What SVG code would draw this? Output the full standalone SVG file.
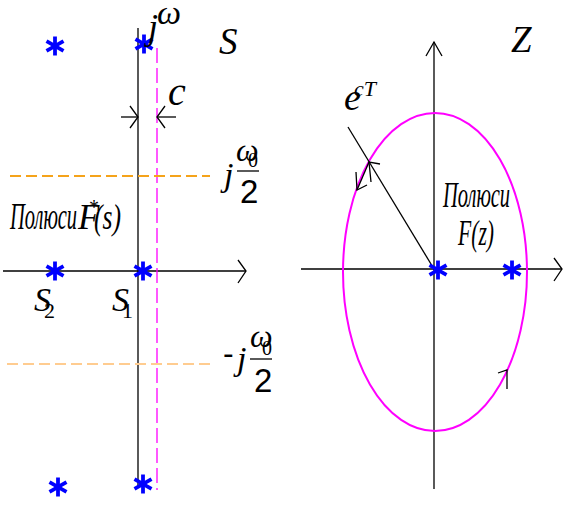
<svg xmlns="http://www.w3.org/2000/svg" width="576" height="512" viewBox="0 0 576 512">
<style>
.ax{stroke:#000;stroke-width:1.3;fill:none}
.ah{stroke:#000;stroke-width:1.3;fill:none}
.t{font-family:"Liberation Serif",serif;font-style:italic;fill:#000}
.n{font-family:"Liberation Serif",serif;fill:#000}
.s2{font-family:"Liberation Sans",sans-serif;fill:#000}
.star{stroke:#0000ff;stroke-width:3.8;stroke-linecap:butt}
</style>
<defs>
<g id="st"><line class="star" x1="0" y1="-9.5" x2="0" y2="9.5"/><line class="star" x1="-8.5" y1="-4.8" x2="8.5" y2="4.8"/><line class="star" x1="-8.5" y1="4.8" x2="8.5" y2="-4.8"/></g>
</defs>
<rect width="576" height="512" fill="#fff"/>
<g id="connectors">
<line class="ax" x1="138" y1="28" x2="138" y2="487"/>
<line class="ax" x1="3" y1="271" x2="246" y2="271"/>
<polyline class="ah" points="238,260 246,271 238,283"/>
<line x1="157" y1="48" x2="157" y2="490" stroke="#ff00ff" stroke-width="1.3" stroke-dasharray="15,5"/>
<line x1="10" y1="176" x2="210" y2="176" stroke="#f5a31a" stroke-width="2" stroke-dasharray="11,5"/>
<line x1="7" y1="364" x2="210" y2="364" stroke="#ffcc90" stroke-width="2" stroke-dasharray="11,5"/>
<line class="ax" x1="121" y1="117" x2="138" y2="117"/>
<polyline class="ah" points="130,106 138,117 130,128"/>
<line class="ax" x1="176" y1="117" x2="157" y2="117"/>
<polyline class="ah" points="165,106 157,117 165,128"/>
<line class="ax" x1="301" y1="269" x2="562" y2="269"/>
<polyline class="ah" points="554,258 562,269 554,281"/>
<line class="ax" x1="434" y1="489" x2="434" y2="42"/>
<polyline class="ah" points="426,56 434,42 442,56"/>
<ellipse cx="435" cy="272" rx="92" ry="159" fill="none" stroke="#ff00ff" stroke-width="2"/>
<line class="ax" x1="348" y1="127" x2="434" y2="269"/>
<polyline class="ah" points="371,182 369,162 380,164"/>
<line class="ax" x1="369" y1="162" x2="357" y2="190"/>
<polyline class="ah" points="356,172 357,190 367,185"/>
<polyline class="ah" points="498,373 507,370 507,389"/>
</g>
<g id="stars">
<use href="#st" x="55" y="46"/>
<use href="#st" x="144" y="44"/>
<use href="#st" x="55" y="271"/>
<use href="#st" x="143" y="271"/>
<use href="#st" x="58" y="487"/>
<use href="#st" x="143" y="484"/>
<use href="#st" x="438" y="270"/>
<use href="#st" x="512" y="270"/>
</g>
<g id="labels-left">
<text class="t" x="148" y="39" font-size="36">j</text>
<text class="t" x="157" y="24" font-size="34">ω</text>
<text class="t" x="219" y="54" font-size="37">S</text>
<text class="t" x="168" y="105" font-size="40">c</text>
<text class="t" x="224" y="186" font-size="34">j</text>
<text class="t" x="236" y="161" font-size="32">ω</text>
<text class="n" x="248" y="167" font-size="20">0</text>
<line x1="237" y1="171" x2="259" y2="171" stroke="#000" stroke-width="1.3"/>
<text class="s2" x="240" y="203" font-size="33">2</text>
<text class="s2" x="223" y="364" font-size="32">-</text>
<text class="t" x="237" y="370" font-size="34">j</text>
<text class="t" x="250" y="347" font-size="32">ω</text>
<text class="n" x="262" y="355" font-size="20">0</text>
<line x1="250" y1="359" x2="272" y2="359" stroke="#000" stroke-width="1.3"/>
<text class="s2" x="254" y="392" font-size="33">2</text>
<text class="t" x="10" y="229" font-size="37" textLength="67" lengthAdjust="spacingAndGlyphs">Полюси</text>
<text class="t" x="78" y="229" font-size="35">F</text>
<text class="n" x="89" y="214" font-size="20">*</text>
<text class="t" x="94" y="229" font-size="35" textLength="27" lengthAdjust="spacingAndGlyphs">(s)</text>
<text class="t" x="34" y="311" font-size="34">S</text>
<text class="n" x="44" y="318" font-size="22">2</text>
<text class="t" x="112" y="311" font-size="34">S</text>
<text class="n" x="122" y="318" font-size="22">1</text>
</g>
<g id="labels-right">
<text class="t" x="511" y="52" font-size="37">Z</text>
<text class="t" x="344" y="110" font-size="38">e</text>
<text class="t" x="354" y="96" font-size="22">cT</text>
<text class="t" x="443" y="207" font-size="35" textLength="67" lengthAdjust="spacingAndGlyphs">Полюси</text>
<text class="t" x="458" y="245" font-size="35" textLength="36" lengthAdjust="spacingAndGlyphs">F(z)</text>
</g>
</svg>
